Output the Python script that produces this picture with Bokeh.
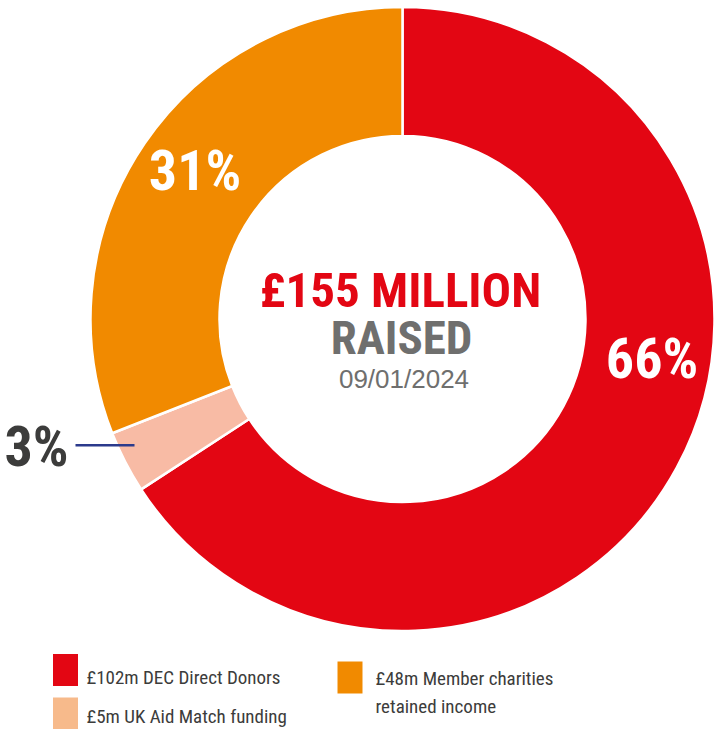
import math
from bokeh.plotting import figure
from bokeh.models import Range1d, ColumnDataSource
from bokeh.core.properties import value
from bokeh.embed import file_html
from bokeh.resources import INLINE

# ---- data ----
categories = ["£102m DEC Direct Donors", "£5m UK Aid Match funding", "£48m Member charities retained income"]
values = [102, 5, 48]
pct_labels = ["66%", "3%", "31%"]
colors = ["#E30613", "#F8BBA5", "#F18A00"]
legend_colors = ["#E30613", "#F7BA8B", "#F18A00"]
total_label = "£155 MILLION"
sub_label = "RAISED"
date_label = "09/01/2024"

# ---- layout (page pixel coordinates; y is negated) ----
W, H = 721, 729
cx, cy = 402, 318.5
r_out, r_in = 312, 183
COND = "Roboto Condensed"
REG = "Liberation Sans"

p = figure(width=W, height=H, output_backend="svg", toolbar_location=None,
           x_range=Range1d(0, W), y_range=Range1d(-H, 0),
           x_axis_type=None, y_axis_type=None, min_border=0)
p.outline_line_color = None
p.grid.visible = False
p.background_fill_color = "white"
p.border_fill_color = "white"

tot = sum(values)
starts, ends = [], []
cum = 0
for v in values:
    starts.append(math.pi / 2 - 2 * math.pi * cum / tot)
    cum += v
    ends.append(math.pi / 2 - 2 * math.pi * cum / tot)

src = ColumnDataSource(dict(start=starts, end=ends, color=colors))
p.annular_wedge(x=cx, y=-cy, inner_radius=r_in, outer_radius=r_out,
                start_angle="start", end_angle="end", direction="clock",
                fill_color="color", line_color="white", line_width=2.5, source=src)

# percentage labels
lab_x = [651.5, 68, 194.5]
lab_y = [358, 446, 170]
lab_align = ["center", "right", "center"]
lab_col = ["white", "#3C3C3B", "white"]
for t, x, y, a, c in zip(pct_labels, lab_x, lab_y, lab_align, lab_col):
    p.text(x=[x], y=[-y], text=[t], text_font=value(COND), text_font_style="bold",
           text_font_size=value("56px"), text_color=c, text_align=a,
           text_baseline="alphabetic")

# leader line for small slice
p.segment(x0=[75], y0=[-444.7], x1=[134], y1=[-444.7], line_color="#2B3A8C", line_width=2.5)

# centre text
p.text(x=[400], y=[-290], text=[total_label], text_font=value(COND), text_font_style="bold",
       text_font_size=value("49px"), text_color="#E30613", text_align="center", text_baseline="alphabetic")
p.text(x=[401], y=[-337], text=[sub_label], text_font=value(COND), text_font_style="bold",
       text_font_size=value("47px"), text_color="#6F6F6E", text_align="center", text_baseline="alphabetic")
p.text(x=[403.5], y=[-378], text=[date_label], text_font=value(REG),
       text_font_size=value("26px"), text_color="#6F6F6E", text_align="center", text_baseline="alphabetic")

# legend
sq_x = [65, 65, 349.5]
sq_y = [669.5, 713, 677]
p.rect(x=sq_x, y=[-v for v in sq_y], width=25, height=32, fill_color=legend_colors, line_color=None)
leg_lines = [["£102m DEC Direct Donors"], ["£5m UK Aid Match funding"],
             ["£48m Member charities", "retained income"]]
txt_x = [86, 86, 375]
txt_y = [[677], [715.5], [678], [706]]
txt_y = [[677], [715.5], [678, 706]]
for lines, x, ys in zip(leg_lines, txt_x, txt_y):
    for ln, y in zip(lines, ys):
        p.text(x=[x], y=[-y], text=[ln], text_font=value(COND), text_font_size=value("19px"),
               text_color="#3C3C3B", text_align="left", text_baseline="alphabetic")

open("out.html", "w").write(file_html(p, INLINE))
